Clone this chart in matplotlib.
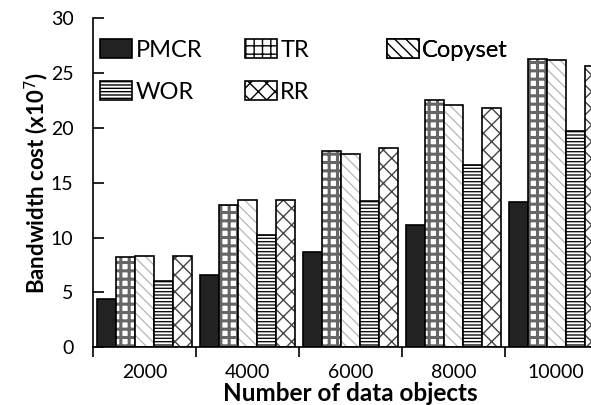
import matplotlib.pyplot as plt
import numpy as np

plt.rcParams['font.family'] = ['Lato', 'DejaVu Sans']
plt.rcParams['hatch.linewidth'] = 1.0

sizes = ['2000', '4000', '6000', '8000', '10000']
schemes = ['PMCR', 'TR', 'Copyset', 'WOR', 'RR']
pmcr = [4.4, 6.55, 8.7, 11.1, 13.2]
tr = [8.2, 13.0, 17.9, 22.5, 26.3]
copyset = [8.35, 13.4, 17.6, 22.1, 26.2]
wor = [6.05, 10.2, 13.3, 16.6, 19.7]
rr = [8.35, 13.4, 18.2, 21.8, 25.6]

series = [pmcr, tr, copyset, wor, rr]
# face colour, hatch, hatch colour, hatch width
styles = [
    ('#222222', None, '#222222', 1.0),
    ('white', '++', '#666666', 2.2),
    ('white', '\\\\\\', '#b5b5b5', 0.9),
    ('white', '-----', '#111111', 1.0),
    ('white', 'xx', '#444444', 1.0),
]

fig = plt.figure(figsize=(5.91, 4.05), dpi=100)
ax = fig.add_axes([0.1574, 0.1425, 0.871, 0.813])

w = 0.185
x = np.arange(len(sizes)) + 0.5
handles = []
for i, (vals, (fc, hatch, hc, hw)) in enumerate(zip(series, styles)):
    pos = x + (i - 2) * w
    plt.rcParams['hatch.linewidth'] = hw
    # hatch layer, then black outline on top
    ax.bar(pos, vals, w, color=fc, hatch=hatch, edgecolor=hc, linewidth=0)
    ax.bar(pos, vals, w, fill=False, edgecolor='black', linewidth=1.2)
    h = plt.Rectangle((0, 0), 1, 1, facecolor=fc, hatch=hatch, edgecolor=hc)
    handles.append(h)
plt.rcParams['hatch.linewidth'] = 1.0

ax.set_xlim(0, 5)
ax.set_ylim(0, 30)
ax.set_yticks(range(0, 31, 5))
ax.set_xticks(range(0, 6))
ax.set_xticklabels([])
ax.set_xticks(x, minor=True)
ax.set_xticklabels(sizes, minor=True)
ax.tick_params(axis='x', which='minor', length=0, pad=12, labelsize=14)
ax.tick_params(axis='x', which='major', length=7, width=1.2)
ax.tick_params(axis='y', direction='in', length=8, width=1.2, labelsize=14, pad=14)
for s in ['top', 'right']:
    ax.spines[s].set_visible(False)
for s in ['left', 'bottom']:
    ax.spines[s].set_linewidth(1.2)

ax.set_xlabel('Number of data objects', fontsize=17.5, fontweight='bold', labelpad=1)
ax.set_ylabel('Bandwidth cost (x10$^7$)', fontsize=16, fontweight='bold', labelpad=0)

# legend laid out as three equal-width columns
columns = [([0, 3], 0.0136), ([1, 4], 0.295), ([2], 0.571)]
for idx, xpos in columns:
    leg = ax.legend([handles[k] for k in idx], [schemes[k] for k in idx],
                    loc='upper left', bbox_to_anchor=(xpos, 0.935),
                    frameon=False, fontsize=17, handlelength=1.35, handleheight=0.85,
                    handletextpad=0.15, labelspacing=0.85,
                    borderpad=0, borderaxespad=0)
    for p in leg.get_patches():
        p.set_linewidth(1.2)
        p.set_edgecolor('black')
    ax.add_artist(leg)

fig.savefig('out.png', dpi=100)
